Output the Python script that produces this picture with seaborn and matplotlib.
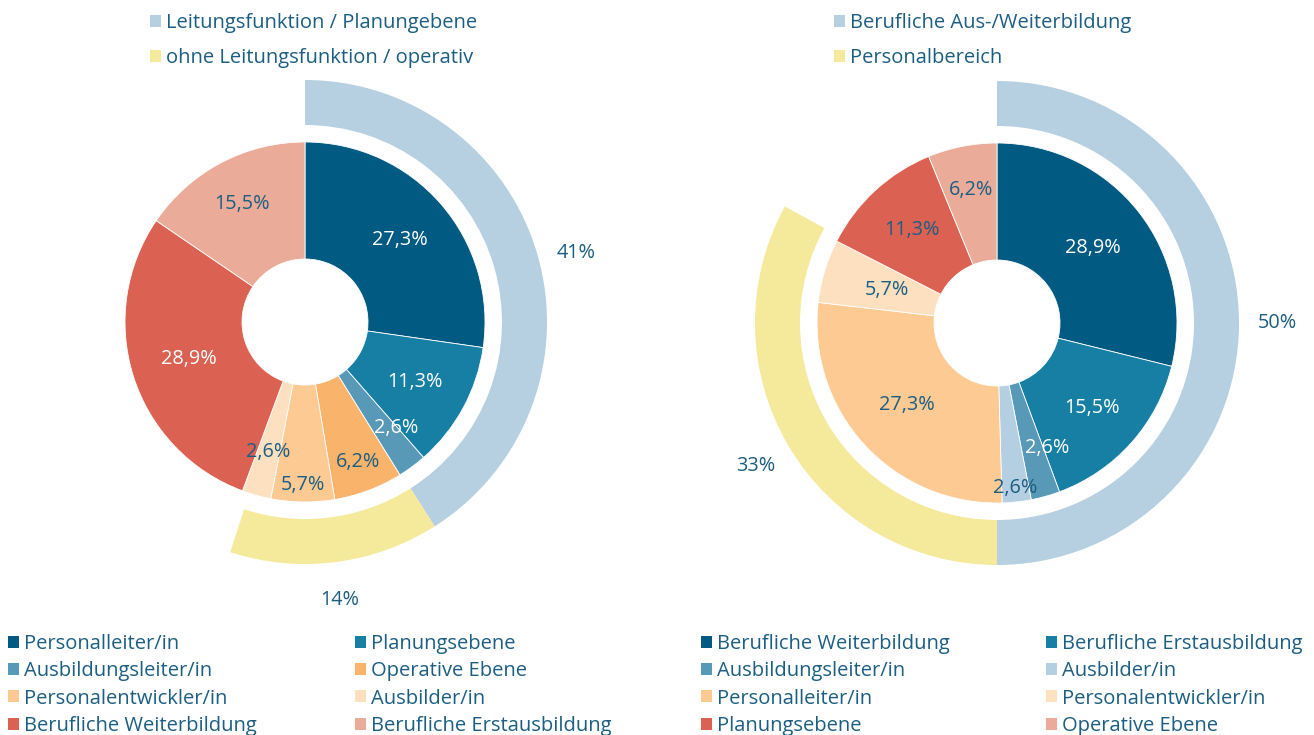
import matplotlib
matplotlib.use('Agg')
import matplotlib.pyplot as plt
from matplotlib.patches import Patch
import numpy as np
import seaborn as sns

# data: left chart
left_labels = ['Personalleiter/in', 'Planungsebene', 'Ausbildungsleiter/in', 'Operative Ebene',
               'Personalentwickler/in', 'Ausbilder/in', 'Berufliche Weiterbildung', 'Berufliche Erstausbildung']
left_values = [27.3, 11.3, 2.6, 6.2, 5.7, 2.6, 28.9, 15.5]
left_groups = ['Leitungsfunktion / Planungebene', 'ohne Leitungsfunktion / operativ']
left_group_values = [41, 14]

# data: right chart
right_labels = ['Berufliche Weiterbildung', 'Berufliche Erstausbildung', 'Ausbildungsleiter/in', 'Ausbilder/in',
                'Personalleiter/in', 'Personalentwickler/in', 'Planungsebene', 'Operative Ebene']
right_values = [28.9, 15.5, 2.6, 2.6, 27.3, 5.7, 11.3, 6.2]
right_groups = ['Berufliche Aus-/Weiterbildung', 'Personalbereich']
right_group_values = [50, 33]

# styling
TEXT = '#1b5e82'
left_colors = ['#005a82', '#167fa3', '#5899b8', '#f9b36b', '#fdca94', '#fde0c0', '#db6152', '#eaab98']
right_colors = ['#005a82', '#167fa3', '#5899b8', '#b4cfe2', '#fdca94', '#fde0c0', '#db6152', '#eaab98']
left_txt = ['white', 'white', 'white', TEXT, TEXT, TEXT, 'white', TEXT]
right_txt = ['white', 'white', 'white', TEXT, TEXT, TEXT, TEXT, TEXT]
# label radius and small angle nudge (degrees, clockwise positive) per slice
left_lab_r = [125, 125, 140, 150, 163, 135, 122, 134]
left_lab_da = [0, 0, -4, 0, 0, 0, 0, 0]
right_lab_r = [122, 127, 135, 166, 122, 115, 126, 136]
right_lab_da = [0, 0, -6, 0, 0, 0, 0, 0]
left_group_da = [2, 0]
right_group_da = [0, 0]
group_colors = ['#b6cfe1', '#f5e99b']

sns.set_theme(style='white')
plt.rcParams['font.family'] = ['Open Sans', 'DejaVu Sans']

W, H = 1314, 735
fig = plt.figure(figsize=(W / 100, H / 100), dpi=100)


def donut(cx, cy, values, colors, txt_colors, lab_r, lab_da, gvalues, g_da):
    S = 700
    ax = fig.add_axes([(cx - S / 2) / W, 1 - (cy + S / 2) / H, S / W, S / H])
    wedges, _ = ax.pie(values, colors=colors, radius=180, startangle=90, counterclock=False,
                       wedgeprops=dict(width=117, edgecolor='white', linewidth=0.6))
    for w, v, c, r, da in zip(wedges, values, txt_colors, lab_r, lab_da):
        a = np.deg2rad((w.theta1 + w.theta2) / 2 - da)
        ax.text(r * np.cos(a), r * np.sin(a), f'{v:.1f}%'.replace('.', ','),
                ha='center', va='center', color=c, fontsize=14.3)
    rest = 100 - sum(gvalues)
    owedges, _ = ax.pie(gvalues + [rest], colors=group_colors + ['none'], radius=242,
                        startangle=90, counterclock=False, wedgeprops=dict(width=45, linewidth=0))
    for w, v, da in zip(owedges[:2], gvalues, g_da):
        a = np.deg2rad((w.theta1 + w.theta2) / 2 - da)
        ax.text(280 * np.cos(a), 280 * np.sin(a), f'{v}%', ha='center', va='center',
                color=TEXT, fontsize=14.3)
    ax.set_xlim(-S / 2, S / 2)
    ax.set_ylim(-S / 2, S / 2)
    ax.axis('off')
    return ax


donut(305, 322, left_values, left_colors, left_txt, left_lab_r, left_lab_da,
      left_group_values, left_group_da)
donut(997, 323, right_values, right_colors, right_txt, right_lab_r, right_lab_da,
      right_group_values, right_group_da)


def legend(labels, colors, x, y, spacing):
    handles = [Patch(facecolor=c, edgecolor='none') for c in colors]
    fig.legend(handles, labels, loc='upper left', bbox_to_anchor=(x / W, 1 - y / H),
               frameon=False, fontsize=14.5, labelcolor=TEXT, handlelength=0.55, handleheight=0.55,
               handletextpad=0.25, labelspacing=spacing, borderpad=0, borderaxespad=0)


legend(left_groups, group_colors, 150, 13, 0.76)
legend(right_groups, group_colors, 834, 13, 0.76)
legend(left_labels[0::2], left_colors[0::2], 8, 634, 0.36)
legend(left_labels[1::2], left_colors[1::2], 355, 634, 0.36)
legend(right_labels[0::2], right_colors[0::2], 701, 634, 0.36)
legend(right_labels[1::2], right_colors[1::2], 1046, 634, 0.36)

fig.savefig('out.png', dpi=100)
